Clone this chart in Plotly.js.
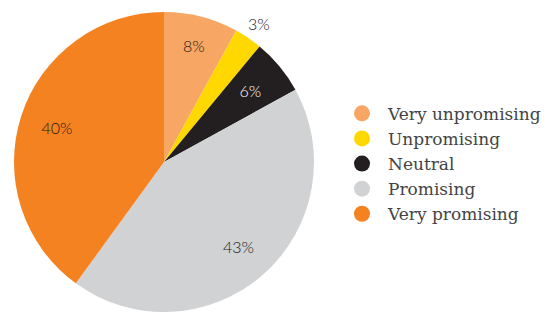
<!DOCTYPE html>
<html>
<head>
<meta charset="utf-8">
<script src="https://cdn.plot.ly/plotly-3.0.1.min.js"></script>
<style>html,body{margin:0;padding:0;background:#fff;}#chart{width:551px;height:312px;}</style>
</head>
<body>
<div id="chart"></div>
<script>
var labels = ["Very unpromising", "Unpromising", "Neutral", "Promising", "Very promising"];
var values = [8, 3, 6, 43, 40];
var colors = ["#F7A664", "#FFD800", "#231F20", "#D1D2D4", "#F58220"];
var textColors = ["#1a1a1a", "#1a1a1a", "#ffffff", "#1a1a1a", "#1a1a1a"];

var pieDomain = {x: [14/551, 314/551], y: [0, 300/312]};
var labelFont = {family: "Lato, 'Noto Sans', sans-serif", size: 16, weight: 300};
var clear = colors.map(function(){ return "rgba(0,0,0,0)"; });

function pctText(keep) {
  return values.map(function(v, i){ return keep.indexOf(i) >= 0 ? v + "%" : ""; });
}

var pie = {
  type: "pie",
  labels: labels,
  values: values,
  sort: false,
  direction: "clockwise",
  rotation: 0,
  marker: {colors: colors, line: {width: 0}},
  textinfo: "none",
  hoverinfo: "label+value",
  showlegend: false,
  domain: pieDomain
};

function labelTrace(keep, hole, domain, pos) {
  return {
    type: "pie",
    labels: labels,
    values: values,
    sort: false,
    direction: "clockwise",
    rotation: 0,
    hole: hole,
    marker: {colors: clear, line: {width: 0}},
    text: pctText(keep),
    textinfo: "text",
    textposition: pos,
    insidetextorientation: "horizontal",
    insidetextfont: Object.assign({}, labelFont, {color: textColors}),
    outsidetextfont: Object.assign({}, labelFont, {color: "#1a1a1a"}),
    hoverinfo: "skip",
    showlegend: false,
    domain: domain
  };
}

var traces = [
  pie,
  labelTrace([0, 3, 4], 0.5, pieDomain, "inside"),
  labelTrace([2], 0.3, {x: [31/551, 297/551], y: [17/312, 283/312]}, "inside"),
  labelTrace([1], 0, {x: [9/551, 309/551], y: [8/312, 308/312]}, "outside")
];

for (var i = 0; i < labels.length; i++) {
  traces.push({
    type: "scatter",
    mode: "markers",
    x: [null], y: [null],
    name: labels[i],
    marker: {color: colors[i], size: 16, symbol: "circle"},
    showlegend: true,
    hoverinfo: "skip"
  });
}

var layout = {
  width: 551, height: 312,
  margin: {l: 0, r: 0, t: 0, b: 0, autoexpand: false},
  paper_bgcolor: "#ffffff",
  plot_bgcolor: "#ffffff",
  xaxis: {visible: false, domain: [0.9, 1]},
  yaxis: {visible: false, domain: [0.9, 1]},
  showlegend: true,
  legend: {
    x: 336/551, xanchor: "left",
    y: 0.475, yanchor: "middle",
    font: {family: "'DejaVu Serif', serif", size: 17, color: "#444444"},
    itemwidth: 42,
    bgcolor: "rgba(0,0,0,0)"
  }
};

Plotly.newPlot("chart", traces, layout, {displayModeBar: false, staticPlot: true});
</script>
</body>
</html>
